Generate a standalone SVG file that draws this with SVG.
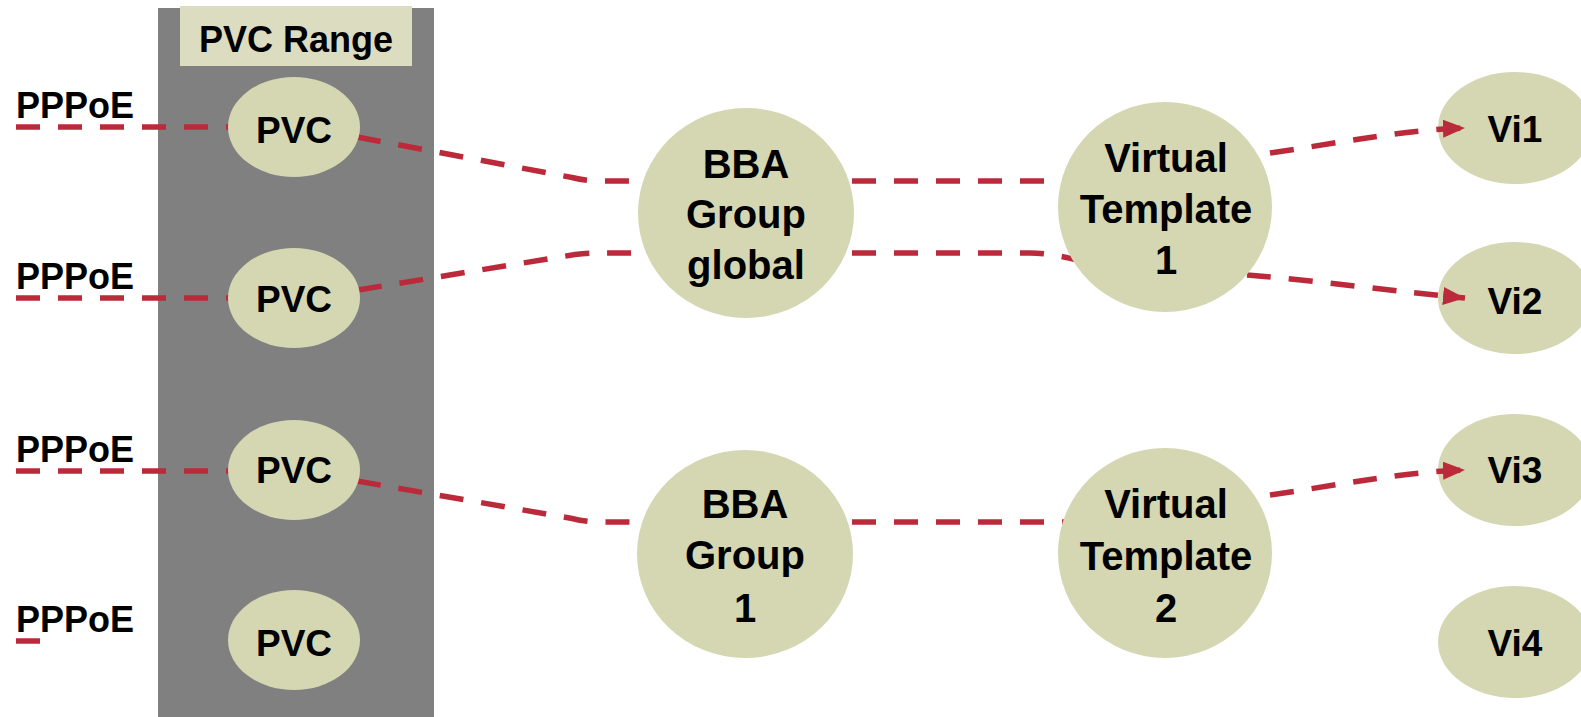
<svg xmlns="http://www.w3.org/2000/svg" width="1581" height="717" viewBox="0 0 1581 717">
  <style>
    .node { fill: #d4d7b2; }
    .lbl { font-family: "Liberation Sans", Arial, sans-serif; font-weight: bold; fill: #000; text-anchor: middle; }
    .left { text-anchor: start; }
    .big { font-size: 40px; }
    .mid { font-size: 37px; }
    .link { fill: none; stroke: #bb2a3a; stroke-width: 5.5; stroke-dasharray: 24 18; }
  </style>
  <defs>
    <marker id="arrow" markerUnits="userSpaceOnUse" markerWidth="24" markerHeight="20" refX="22" refY="9" orient="auto">
      <path d="M0,0 L22,9 L0,18 z" fill="#bb2a3a"/>
    </marker>
  </defs>

  <rect x="0" y="0" width="1581" height="717" fill="#ffffff"/>

  <!-- PVC range container -->
  <g id="pvc-range">
    <rect x="158" y="8" width="276" height="709" fill="#808080"/>
    <rect x="180" y="6" width="232" height="60" fill="#dcdcc0"/>
    <text class="lbl" x="296" y="52" font-size="36">PVC Range</text>
  </g>

  <!-- PPPoE input labels -->
  <g id="pppoe-labels">
    <text class="lbl left" x="16" y="118" font-size="36">PPPoE</text>
    <text class="lbl left" x="16" y="289" font-size="36">PPPoE</text>
    <text class="lbl left" x="16" y="462" font-size="36">PPPoE</text>
    <text class="lbl left" x="16" y="632" font-size="36">PPPoE</text>
  </g>

  <!-- Virtual access interfaces (arrows land on top of them) -->
  <g id="vi1"><ellipse class="node" cx="1515" cy="128" rx="77" ry="56"/><text class="lbl mid" x="1515" y="142">Vi1</text></g>
  <g id="vi2"><ellipse class="node" cx="1515" cy="298" rx="77" ry="56"/><text class="lbl mid" x="1515" y="314">Vi2</text></g>
  <g id="vi3"><ellipse class="node" cx="1515" cy="470" rx="77" ry="56"/><text class="lbl mid" x="1515" y="483">Vi3</text></g>
  <g id="vi4"><ellipse class="node" cx="1515" cy="642" rx="77" ry="56"/><text class="lbl mid" x="1515" y="656">Vi4</text></g>

  <!-- Connectors -->
  <g id="connectors">
    <path class="link" d="M16,127 L232,127"/>
    <path class="link" d="M16,298 L232,298"/>
    <path class="link" d="M16,471 L232,471"/>
    <path class="link" d="M16,641 L40,641"/>

    <path class="link" d="M357,137 L572,177.5 Q586,181 600,181 L645,181"/>
    <path class="link" d="M358,290 L575,254.5 Q588,253 600,253 L645,253"/>
    <path class="link" d="M357,481 L572,518.5 Q586,522 600,522 L645,522"/>

    <path class="link" d="M852,181 L1065,181"/>
    <path class="link" d="M852,253 L1030,253 C1045,253 1060,256 1078,260"/>
    <path class="link" d="M852,522 L1065,522"/>

    <path class="link" d="M1270,153 C1340,143 1400,130 1465,128" marker-end="url(#arrow)"/>
    <path class="link" d="M1247,275 C1320,281 1400,292 1465,298" marker-end="url(#arrow)"/>
    <path class="link" d="M1270,495 C1340,485 1400,472 1465,470" marker-end="url(#arrow)"/>
  </g>

  <!-- PVC nodes -->
  <g id="pvc-1"><ellipse class="node" cx="294" cy="127" rx="66" ry="50"/><text class="lbl mid" x="294" y="143">PVC</text></g>
  <g id="pvc-2"><ellipse class="node" cx="294" cy="298" rx="66" ry="50"/><text class="lbl mid" x="294" y="312">PVC</text></g>
  <g id="pvc-3"><ellipse class="node" cx="294" cy="470" rx="66" ry="50"/><text class="lbl mid" x="294" y="483">PVC</text></g>
  <g id="pvc-4"><ellipse class="node" cx="294" cy="640" rx="66" ry="50"/><text class="lbl mid" x="294" y="656">PVC</text></g>

  <!-- BBA groups -->
  <g id="bba-global">
    <ellipse class="node" cx="746" cy="213" rx="108" ry="105"/>
    <text class="lbl big" x="746" y="178">BBA</text>
    <text class="lbl big" x="746" y="228">Group</text>
    <text class="lbl big" x="746" y="279">global</text>
  </g>
  <g id="bba-group-1">
    <ellipse class="node" cx="745" cy="554" rx="108" ry="104"/>
    <text class="lbl big" x="745" y="518">BBA</text>
    <text class="lbl big" x="745" y="569">Group</text>
    <text class="lbl big" x="745" y="622">1</text>
  </g>

  <!-- Virtual templates -->
  <g id="virtual-template-1">
    <ellipse class="node" cx="1165" cy="207" rx="107" ry="105"/>
    <text class="lbl big" x="1166" y="172">Virtual</text>
    <text class="lbl big" x="1166" y="223">Template</text>
    <text class="lbl big" x="1166" y="274">1</text>
  </g>
  <g id="virtual-template-2">
    <ellipse class="node" cx="1165" cy="553" rx="107" ry="105"/>
    <text class="lbl big" x="1166" y="518">Virtual</text>
    <text class="lbl big" x="1166" y="570">Template</text>
    <text class="lbl big" x="1166" y="622">2</text>
  </g>
</svg>
